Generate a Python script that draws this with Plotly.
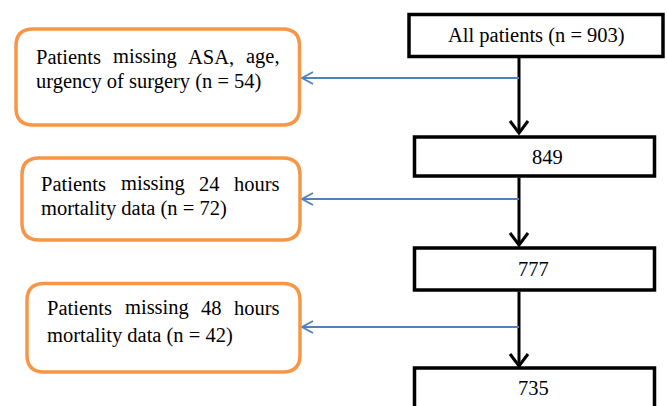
import plotly.graph_objects as go

# ---------------- data ----------------
main_labels = ["All patients (n = 903)", "849", "777", "735"]
exclusion_lines = [
    ["Patients missing ASA, age,", "urgency of surgery (n = 54)"],
    ["Patients missing 24 hours", "mortality data (n = 72)"],
    ["Patients missing 48 hours", "mortality data (n = 42)"],
]

# ---------------- layout geometry (pixels, y downwards) ----------------
W, H = 667, 406
main_boxes = [  # x0, x1, y0, y1
    (409, 663, 14.5, 56.5),
    (414.5, 654.5, 137, 176),
    (414.5, 654.5, 248, 290),
    (414.5, 654.5, 368, 430),
]
main_text_pos = [(536, 35), (547, 157), (533, 269), (533, 388)]
flow_x = 519
arrow_tips = [133, 245, 366]
excl_boxes = [
    (16, 299.5, 29, 125),
    (22, 300, 158, 240),
    (27, 300, 283.5, 372),
]
excl_text_x = [(36, 280), (41, 280), (47, 280)]
excl_text_y = [(56.5, 81), (183.5, 208.5), (307.5, 335)]
branch_y = [78, 199, 327]
branch_tip_x = 302

FONT = "'Liberation Serif', 'Times New Roman', Times, serif"
FS = 20.5
ORANGE = "#F79646"
BLUE = "#4F81BD"

# Times / Liberation Serif advance widths (per em)
CW = {' ': .25, 'P': .556, 'a': .444, 't': .278, 'i': .278, 'e': .444, 'n': .5,
      's': .389, 'm': .778, 'g': .5, 'A': .722, 'S': .556, ',': .25, 'u': .5,
      'r': .333, 'c': .444, 'y': .5, 'o': .5, 'f': .333, '(': .333, ')': .333,
      '=': .564, 'h': .5, 'l': .278, 'd': .5}
for dgt in "0123456789":
    CW[dgt] = .5


def text_w(s):
    return sum(CW.get(ch, .5) for ch in s) * FS


def rrect(x0, y0, x1, y1, r):
    return (f"M{x0+r},{y0} L{x1-r},{y0} Q{x1},{y0} {x1},{y0+r} "
            f"L{x1},{y1-r} Q{x1},{y1} {x1-r},{y1} L{x0+r},{y1} "
            f"Q{x0},{y1} {x0},{y1-r} L{x0},{y0+r} Q{x0},{y0} {x0+r},{y0} Z")


shapes = []
annotations = []

# main boxes
for (x0, x1, y0, y1), label, (tx, ty) in zip(main_boxes, main_labels, main_text_pos):
    shapes.append(dict(type="rect", x0=x0, x1=x1, y0=y0, y1=y1,
                       line=dict(color="black", width=3.5), fillcolor="white",
                       xref="x", yref="y", layer="above"))
    annotations.append(dict(x=tx, y=ty, text=label, showarrow=False,
                            xanchor="center", yanchor="middle",
                            font=dict(family=FONT, size=FS, color="black"),
                            borderpad=0, borderwidth=0))

# vertical flow arrows
for i, tip in enumerate(arrow_tips):
    y_start = main_boxes[i][3] + 1.5
    shapes.append(dict(type="line", x0=flow_x, x1=flow_x, y0=y_start, y1=tip,
                       line=dict(color="black", width=3)))
    shapes.append(dict(type="path",
                       path=f"M{flow_x-9},{tip-12} L{flow_x},{tip} L{flow_x+9},{tip-12}",
                       line=dict(color="black", width=3)))

# exclusion branches
for by in branch_y:
    shapes.append(dict(type="line", x0=flow_x, x1=branch_tip_x, y0=by, y1=by,
                       line=dict(color=BLUE, width=1.8)))
    shapes.append(dict(type="path",
                       path=f"M{branch_tip_x+11},{by-6} L{branch_tip_x},{by} L{branch_tip_x+11},{by+6}",
                       line=dict(color=BLUE, width=1.8)))

# exclusion boxes with justified first line
for (x0, x1, y0, y1), lines, (lx0, lx1), (ly1, ly2) in zip(
        excl_boxes, exclusion_lines, excl_text_x, excl_text_y):
    shapes.append(dict(type="path", path=rrect(x0, y0, x1, y1, 17),
                       line=dict(color=ORANGE, width=3.5), fillcolor="white"))
    words = lines[0].split(" ")
    total = sum(text_w(w) for w in words)
    gap = (lx1 - lx0 - total) / (len(words) - 1)
    cx = lx0
    for w in words:
        annotations.append(dict(x=cx, y=ly1, text=w, showarrow=False,
                                xanchor="left", yanchor="middle",
                                font=dict(family=FONT, size=FS, color="black"),
                                borderpad=0, borderwidth=0))
        cx += text_w(w) + gap
    annotations.append(dict(x=lx0, y=ly2, text=lines[1], showarrow=False,
                            xanchor="left", yanchor="middle",
                            font=dict(family=FONT, size=FS, color="black"),
                            borderpad=0, borderwidth=0))

fig = go.Figure()
fig.add_trace(go.Scatter(x=[0, W], y=[0, H], mode="markers",
                         marker=dict(opacity=0), hoverinfo="skip", showlegend=False))
fig.update_layout(
    width=W, height=H, margin=dict(l=0, r=0, t=0, b=0),
    paper_bgcolor="white", plot_bgcolor="white",
    xaxis=dict(range=[0, W], visible=False, fixedrange=True),
    yaxis=dict(range=[H, 0], visible=False, fixedrange=True),
    shapes=shapes, annotations=annotations, showlegend=False,
)
fig.write_html("out.html", config={"displayModeBar": False},
               post_script="document.body.style.margin='0';document.body.style.padding='0';")
